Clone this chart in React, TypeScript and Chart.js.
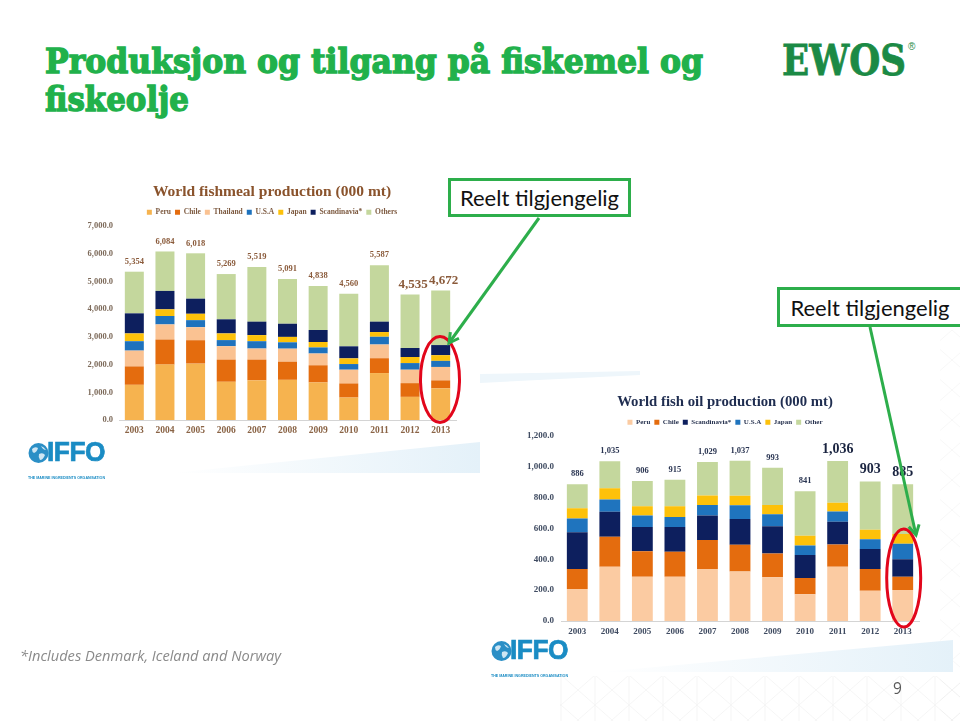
import React, { useEffect, useLayoutEffect, useRef } from 'react';
import { Chart, registerables } from 'chart.js';
Chart.register(...registerables);

// ---------- data ----------
const years = ['2003', '2004', '2005', '2006', '2007', '2008', '2009', '2010', '2011', '2012', '2013'];

// World fishmeal production (000 mt)
const mealPeru = [1270, 2000, 2035, 1380, 1430, 1450, 1355, 810, 1695, 835, 1140];
const mealChile = [665, 905, 845, 800, 750, 655, 620, 510, 535, 495, 290];
const mealThailand = [570, 545, 470, 485, 400, 470, 425, 495, 495, 485, 485];
const mealUSA = [340, 305, 255, 220, 265, 230, 220, 205, 280, 240, 220];
const mealJapan = [280, 240, 230, 240, 220, 195, 195, 205, 170, 220, 205];
const mealScand = [725, 665, 545, 510, 485, 475, 435, 435, 375, 325, 365];
const mealOthers = [1504, 1424, 1638, 1634, 1969, 1616, 1588, 1900, 2037, 1935, 1967];
const mealTotalLabels = ['5,354', '6,084', '6,018', '5,269', '5,519', '5,091', '4,838', '4,560', '5,587', '4,535', '4,672'];
const mealBigLabels = [9, 10];

// World fish oil production (000 mt)
const oilPeru = [207, 352, 287, 287, 337, 320, 283, 174, 352, 196, 200];
const oilChile = [130, 194, 165, 161, 187, 173, 154, 104, 144, 141, 87];
const oilScand = [237, 161, 157, 161, 159, 168, 176, 150, 147, 130, 113];
const oilUSA = [89, 80, 74, 65, 69, 89, 78, 61, 66, 63, 100];
const oilJapan = [67, 72, 60, 69, 61, 61, 61, 63, 56, 61, 63];
const oilOther = [156, 176, 163, 172, 216, 226, 241, 289, 271, 312, 322];
const oilTotalLabels = ['886', '1,035', '906', '915', '1,029', '1,037', '993', '841', '1,036', '903', '885'];
const oilBigLabels = [8, 9, 10];

const SERIF = '"Liberation Serif", "Times New Roman", serif';

const fmt1 = (v: any) =>
  Number(v).toLocaleString('en-US', { minimumFractionDigits: 1, maximumFractionDigits: 1 });

function makeTotalsPlugin(o: any) {
  return {
    id: 'totals',
    afterDatasetsDraw(chart: any) {
      const { ctx, scales } = chart;
      const xs = scales.x;
      const ys = scales.y;
      o.labels.forEach((lab: string, i: number) => {
        let sum = 0;
        chart.data.datasets.forEach((ds: any) => {
          sum += ds.data[i];
        });
        const big = o.big.indexOf(i) >= 0;
        ctx.save();
        ctx.font = `bold ${big ? o.bigSize : o.size}px ${SERIF}`;
        ctx.fillStyle = big ? o.bigColor : o.color;
        ctx.textAlign = 'center';
        ctx.textBaseline = 'middle';
        ctx.fillText(lab, xs.getPixelForValue(i) + (big ? o.bigDx : 0), ys.getPixelForValue(sum) - (big ? o.bigGap : o.gap));
        ctx.restore();
      });
    },
  };
}

function StackedChart(props: any) {
  const ref = useRef<HTMLCanvasElement>(null);
  useEffect(() => {
    const c = props.cfg;
    const chart = new Chart(ref.current as HTMLCanvasElement, {
      type: 'bar',
      data: {
        labels: years,
        datasets: c.series.map((s: any) => ({
          label: s.label,
          data: s.data,
          backgroundColor: s.color,
          borderWidth: 0,
          barPercentage: c.barPct,
          categoryPercentage: 1,
        })),
      },
      options: {
        animation: false,
        responsive: false,
        maintainAspectRatio: false,
        layout: { padding: { top: c.padTop, right: 0, bottom: 0, left: 0 } },
        plugins: {
          title: {
            display: true,
            text: c.title,
            color: c.titleColor,
            font: { family: SERIF, size: c.titleSize, weight: 'bold' },
            padding: { top: c.titlePadTop, bottom: c.titlePadBottom },
          },
          legend: {
            display: true,
            position: 'top',
            labels: {
              boxWidth: 5,
              boxHeight: 5,
              padding: c.legendPad,
              color: c.legendColor,
              font: { family: SERIF, size: c.legendSize, weight: 'bold' },
            },
          },
          tooltip: { enabled: false },
        },
        scales: {
          x: {
            stacked: true,
            grid: { display: false, drawTicks: false },
            border: { display: true, color: '#d4d4d4', width: 1 },
            ticks: {
              color: c.xColor,
              font: { family: SERIF, size: c.xSize, weight: 'bold' },
              padding: 5,
              maxRotation: 0,
              autoSkip: false,
            },
            afterFit: (s: any) => {
              s.height = 18;
            },
          },
          y: {
            stacked: true,
            min: 0,
            max: c.yMax,
            grid: { display: false, drawTicks: false },
            border: { display: false },
            ticks: {
              stepSize: c.yStep,
              callback: fmt1,
              color: c.yColor,
              font: { family: SERIF, size: c.ySize, weight: 'bold' },
              padding: c.yPad,
            },
            afterFit: (s: any) => {
              s.width = c.yWidth;
            },
          },
          spacer: {
            type: 'linear',
            position: 'right',
            display: true,
            grid: { display: false, drawTicks: false },
            border: { display: false },
            ticks: { display: false },
            afterFit: (s: any) => {
              s.width = c.rightSpace;
            },
          },
        },
      } as any,
      plugins: [makeTotalsPlugin(c.totals)],
    });
    return () => chart.destroy();
  }, []);
  return (
    <canvas
      ref={ref}
      width={props.w}
      height={props.h}
      style={{ position: 'absolute', left: props.x, top: props.y, width: props.w, height: props.h }}
    />
  );
}

function FitText(props: any) {
  const ref = useRef<HTMLSpanElement>(null);
  useLayoutEffect(() => {
    const el = ref.current;
    if (!el) return;
    el.style.transform = 'none';
    const w = el.getBoundingClientRect().width;
    if (w > 0) el.style.transform = `scaleX(${props.width / w})`;
  }, []);
  return (
    <span
      ref={ref}
      style={{ display: 'inline-block', whiteSpace: 'nowrap', transformOrigin: 'left top', ...props.style }}
    >
      {props.children}
    </span>
  );
}

const mealCfg = {
  title: 'World fishmeal production (000 mt)',
  titleColor: '#8a532c',
  titleSize: 15.5,
  titlePadTop: 4,
  titlePadBottom: 3,
  padTop: 1,
  rightSpace: 8,
  legendPad: 4,
  legendSize: 7.5,
  legendColor: '#7d5a40',
  xColor: '#8a6446',
  xSize: 9.5,
  yColor: '#7d6a5a',
  ySize: 8.5,
  yPad: 6,
  yWidth: 39,
  yMax: 7000,
  yStep: 1000,
  barPct: 0.62,
  series: [
    { label: 'Peru', data: mealPeru, color: '#F6B34F' },
    { label: 'Chile', data: mealChile, color: '#E46C0E' },
    { label: 'Thailand', data: mealThailand, color: '#FAC292' },
    { label: 'U.S.A', data: mealUSA, color: '#1E72BD' },
    { label: 'Japan', data: mealJapan, color: '#FDC10A' },
    { label: 'Scandinavia*', data: mealScand, color: '#0D1F5E' },
    { label: 'Others', data: mealOthers, color: '#C4D79D' },
  ],
  totals: {
    labels: mealTotalLabels,
    big: mealBigLabels,
    size: 8.5,
    bigSize: 13,
    color: '#8a5a3a',
    bigColor: '#8a5a3a',
    gap: 10,
    bigGap: 10,
    bigDx: 3,
  },
};

const oilCfg = {
  title: 'World fish oil production (000 mt)',
  titleColor: '#1f2d50',
  titleSize: 14.75,
  titlePadTop: 4,
  titlePadBottom: 4,
  padTop: 0,
  rightSpace: 21,
  legendPad: 4,
  legendSize: 7,
  legendColor: '#2a3552',
  xColor: '#3f4b61',
  xSize: 9,
  yColor: '#3f4b61',
  ySize: 9,
  yPad: 7,
  yWidth: 51,
  yMax: 1200,
  yStep: 200,
  barPct: 0.64,
  series: [
    { label: 'Peru', data: oilPeru, color: '#FBCBA2' },
    { label: 'Chile', data: oilChile, color: '#E46C0E' },
    { label: 'Scandinavia*', data: oilScand, color: '#0D1F5E' },
    { label: 'U.S.A', data: oilUSA, color: '#1F74BE' },
    { label: 'Japan', data: oilJapan, color: '#FDC10A' },
    { label: 'Other', data: oilOther, color: '#C4D79D' },
  ],
  totals: {
    labels: oilTotalLabels,
    big: oilBigLabels,
    size: 8.5,
    bigSize: 14,
    color: '#2a3552',
    bigColor: '#1a2440',
    gap: 10,
    bigGap: 12,
    bigDx: 0,
  },
};

function arrowHead(x1: number, y1: number, x2: number, y2: number, len: number) {
  const a = Math.atan2(y2 - y1, x2 - x1);
  const p1 = [x2 - len * Math.cos(a - 0.5), y2 - len * Math.sin(a - 0.5)];
  const p2 = [x2 - len * Math.cos(a + 0.5), y2 - len * Math.sin(a + 0.5)];
  return `M${p1[0]},${p1[1]} L${x2},${y2} L${p2[0]},${p2[1]}`;
}

function IffoLogo(props: any) {
  const { x, y } = props;
  return (
    <div style={{ position: 'absolute', left: x, top: y, width: 80, height: 26 }}>
      <svg width={22} height={22} style={{ position: 'absolute', left: 0, top: 0 }}>
        <circle cx={10.5} cy={10} r={10} fill="#2b8fc6" />
        <path d="M4,6 Q7,3 10,5 Q9,9 6,10 Q4,9 4,6 Z" fill="#cfe6f3" />
        <path d="M11,11 Q15,9 17,12 Q15,17 12,17 Q10,14 11,11 Z" fill="#cfe6f3" />
        <path d="M13,3 Q16,4 18,7 Q15,7 13,3 Z" fill="#cfe6f3" />
      </svg>
      <div style={{ position: 'absolute', left: 19, top: -6 }}>
        <FitText
          width={58}
          style={{
            fontFamily: '"Liberation Sans", Arial, sans-serif',
            fontWeight: 'bold',
            fontSize: 27,
            color: '#1a8cc4',
            letterSpacing: -0.5,
            WebkitTextStroke: '0.7px #1a8cc4',
          }}
        >
          IFFO
        </FitText>
      </div>
      <div style={{ position: 'absolute', left: 0, top: 21.5 }}>
        <FitText
          width={77}
          style={{ fontFamily: '"Liberation Sans", Arial, sans-serif', fontSize: 4, lineHeight: '4px', color: '#1a8cc4', fontWeight: 'bold' }}
        >
          THE MARINE INGREDIENTS ORGANISATION
        </FitText>
      </div>
    </div>
  );
}

function Callout(props: any) {
  return (
    <div
      style={{
        position: 'absolute',
        left: props.x,
        top: props.y,
        width: props.w,
        height: props.h,
        boxSizing: 'border-box',
        border: '3px solid #2DAE4B',
        background: '#fff',
        display: 'flex',
        alignItems: 'center',
        justifyContent: 'center',
        fontFamily: 'Lato, "Noto Sans", sans-serif',
        fontSize: 22,
        color: '#111',
        whiteSpace: 'nowrap',
      }}
    >
      Reelt tilgjengelig
    </div>
  );
}

export default function App() {
  useEffect(() => {
    document.body.style.margin = '0';
  }, []);
  const a1 = [539, 218, 449, 343];
  const a2 = [870, 327, 916, 535];
  return (
    <div
      style={{
        position: 'fixed',
        left: 0,
        top: 0,
        width: 960,
        height: 721,
        background: '#fff',
        overflow: 'hidden',
      }}
    >
      <svg width={960} height={721} style={{ position: 'absolute', left: 0, top: 0 }}>
        <defs>
          <linearGradient id="band" x1="0" x2="1" y1="0" y2="0">
            <stop offset="0" stopColor="#ffffff" />
            <stop offset="1" stopColor="#e4f1f9" />
          </linearGradient>
          <pattern id="hatch" width="34" height="30" patternUnits="userSpaceOnUse">
            <path d="M0,0 L34,30 M34,0 L0,30 M17,0 L17,30" stroke="#e6e6e6" strokeWidth="0.8" fill="none" />
          </pattern>
        </defs>
        <rect x={560} y={676} width={400} height={45} fill="url(#hatch)" opacity={0.5} />
        <rect x={940} y={330} width={20} height={391} fill="url(#hatch)" opacity={0.4} />
        <polygon points="173,473 480,442 480,473" fill="url(#band)" />
        <polygon points="600,672 953,640 953,672" fill="url(#band)" />
        <polygon points="480,374 640,371 640,375 480,383" fill="#eef6fb" />
      </svg>

      {/* Slide title */}
      <div
        style={{
          position: 'absolute',
          left: 45,
          top: 42,
          fontFamily: '"DejaVu Serif", serif',
          fontWeight: 'bold',
          fontSize: 34,
          lineHeight: '38.4px',
          color: '#21B14B',
          WebkitTextStroke: '1.4px #21B14B',
        }}
      >
        <div>
          <FitText width={658}>Produksjon og tilgang på fiskemel og</FitText>
        </div>
        <div>
          <FitText width={144}>fiskeolje</FitText>
        </div>
      </div>

      {/* EWOS logo */}
      <div style={{ position: 'absolute', left: 782, top: 36 }}>
        <FitText
          width={124}
          style={{
            fontFamily: '"DejaVu Serif", serif',
            fontWeight: 'bold',
            fontSize: 42,
            lineHeight: '50px',
            color: '#1B8A45',
            WebkitTextStroke: '0.8px #1B8A45',
          }}
        >
          EWOS
        </FitText>
      </div>
      <div style={{ position: 'absolute', left: 908, top: 41, fontFamily: '"Liberation Sans", sans-serif', fontSize: 10, color: '#1B8A45' }}>
        ®
      </div>

      <StackedChart x={80} y={178} w={384} h={260} cfg={mealCfg} />
      <StackedChart x={510} y={389} w={430} h={250} cfg={oilCfg} />

      <IffoLogo x={28} y={443} />
      <IffoLogo x={491} y={641} />

      <Callout x={448} y={178} w={183} h={39} />
      <Callout x={777} y={287} w={186} h={40} />

      <svg width={960} height={721} style={{ position: 'absolute', left: 0, top: 0, pointerEvents: 'none' }}>
        <ellipse cx={440} cy={379.5} rx={19.5} ry={43} fill="none" stroke="#E2061B" strokeWidth={3} />
        <ellipse cx={903.7} cy={578} rx={17} ry={49} fill="none" stroke="#E2061B" strokeWidth={3} />
        <line x1={a1[0]} y1={a1[1]} x2={a1[2]} y2={a1[3]} stroke="#2DAE4B" strokeWidth={3} />
        <path d={arrowHead(a1[0], a1[1], a1[2], a1[3], 11)} stroke="#2DAE4B" strokeWidth={3} fill="none" />
        <line x1={a2[0]} y1={a2[1]} x2={a2[2]} y2={a2[3]} stroke="#2DAE4B" strokeWidth={3} />
        <path d={arrowHead(a2[0], a2[1], a2[2], a2[3], 11)} stroke="#2DAE4B" strokeWidth={3} fill="none" />
      </svg>

      {/* footnote */}
      <div style={{ position: 'absolute', left: 20, top: 646 }}>
        <FitText width={261} style={{ fontFamily: '"Open Sans", sans-serif', fontStyle: 'italic', fontSize: 14.5, color: '#8a8a8a' }}>
          *Includes Denmark, Iceland and Norway
        </FitText>
      </div>

      {/* page number */}
      <div style={{ position: 'absolute', left: 893, top: 677, fontFamily: '"Open Sans", sans-serif', fontSize: 15.5, color: '#595959' }}>
        9
      </div>
    </div>
  );
}
